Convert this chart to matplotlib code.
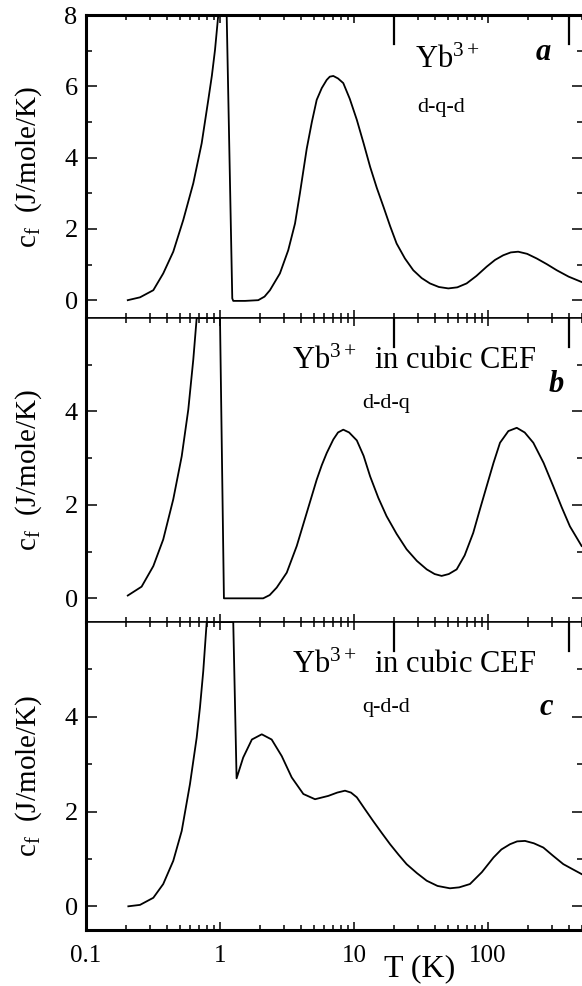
import numpy as np
import matplotlib
matplotlib.use("Agg")
import matplotlib.pyplot as plt
from matplotlib.ticker import FixedLocator, FixedFormatter, LogLocator, NullFormatter

# panel a : Yb3+ d-q-d
T_a = [0.205, 0.253, 0.318, 0.377, 0.448, 0.532, 0.632, 0.73, 0.818, 0.87, 0.918, 0.971,
       1.122, 1.235, 1.256, 1.54, 1.93, 2.15, 2.36, 2.80, 3.23, 3.63, 3.95, 4.44, 4.85,
       5.27, 5.75, 6.26, 6.6, 7.01, 7.6, 8.32, 9.3, 10.5, 11.8, 13.2, 14.8, 16.6,
       18.6, 20.8, 24.0, 27.7, 32.0, 36.9, 43.0, 50.6, 59.0, 69.3, 82.0, 97.8,
       113, 130, 148, 168, 196, 231, 275, 326, 400, 500]
cf_a = [0.0, 0.08, 0.28, 0.75, 1.36, 2.25, 3.28, 4.40, 5.62, 6.3, 7.02, 8.0,
        8.0, 0.05, -0.02, -0.02, 0.0, 0.10, 0.28, 0.75, 1.40, 2.15, 3.0, 4.25, 5.0,
        5.62, 5.95, 6.18, 6.27, 6.29, 6.22, 6.09, 5.65, 5.06, 4.40, 3.74, 3.15, 2.62,
        2.08, 1.59, 1.17, 0.84, 0.62, 0.47, 0.37, 0.33, 0.36, 0.47, 0.68, 0.94,
        1.13, 1.26, 1.34, 1.36, 1.30, 1.17, 1.01, 0.84, 0.66, 0.51]

# panel b : Yb3+ in cubic CEF, d-d-q
T_b = [0.205, 0.26, 0.318, 0.377, 0.448, 0.518, 0.58, 0.632, 0.67,
       1.0, 1.07, 1.41, 2.10, 2.35, 2.65, 3.15, 3.74, 4.44, 5.27, 5.75, 6.26, 7.01,
       7.6, 8.32, 9.2, 10.5, 11.8, 13.2, 15.2, 17.5, 20.8, 24.7, 29.5, 34.9, 40.0,
       45.1, 51.0, 58.4, 67.0, 77.6, 87.0, 97.8, 110, 123, 142, 164, 188, 218,
       260, 307, 355, 409, 500]
cf_b = [0.06, 0.25, 0.69, 1.26, 2.12, 3.04, 4.04, 5.11, 6.0,
        6.0, 0.0, 0.0, 0.0, 0.07, 0.23, 0.55, 1.12, 1.83, 2.54, 2.85, 3.11, 3.40,
        3.55, 3.61, 3.55, 3.38, 3.05, 2.61, 2.15, 1.76, 1.38, 1.05, 0.80, 0.62, 0.52,
        0.48, 0.52, 0.62, 0.92, 1.40, 1.90, 2.40, 2.90, 3.33, 3.58, 3.65, 3.55, 3.33,
        2.90, 2.40, 1.95, 1.54, 1.12]

# panel c : Yb3+ in cubic CEF, q-d-d
T_c = [0.207, 0.253, 0.318, 0.377, 0.448, 0.518, 0.597, 0.67, 0.709, 0.75, 0.796,
       1.256, 1.33, 1.49, 1.73, 2.05, 2.43, 2.89, 3.43, 4.19, 5.12, 6.43, 7.5, 8.57,
       9.5, 10.5, 12.0, 13.9, 16.1, 18.6, 21.5, 24.7, 29.5, 34.9, 42.0, 52.0, 61.0,
       73.4, 90.0, 110, 126, 146, 165, 189, 220, 259, 305, 365, 430, 500]
cf_c = [0.0, 0.03, 0.18, 0.47, 0.96, 1.59, 2.58, 3.56, 4.2, 4.96, 6.0,
        6.0, 2.70, 3.14, 3.52, 3.63, 3.52, 3.17, 2.72, 2.37, 2.26, 2.33, 2.40, 2.44,
        2.40, 2.30, 2.06, 1.80, 1.55, 1.31, 1.09, 0.89, 0.70, 0.54, 0.43, 0.38, 0.40,
        0.47, 0.72, 1.03, 1.20, 1.31, 1.37, 1.38, 1.33, 1.24, 1.07, 0.89, 0.78, 0.68]

x_ticks = [0.1, 1, 10, 100]
x_tick_labels = ['0.1', '1', '10', '100']
delta_marks = [20, 400]

panels = [
    dict(T=T_a, cf=cf_a, ylim=(-0.5, 8), major=[0, 2, 4, 6, 8], minor=[1, 3, 5, 7],
         title='Yb$^{3+}$', sub='d-q-d', letter='a',
         title_xy=(0.662, 0.825), sub_xy=(0.666, 0.681), letter_xy=(0.905, 0.851)),
    dict(T=T_b, cf=cf_b, ylim=(-0.5, 6), major=[0, 2, 4], minor=[1, 3, 5],
         title='Yb$^{3+}$  in cubic CEF', sub='d-d-q', letter='b',
         title_xy=(0.4145, 0.831), sub_xy=(0.555, 0.705), letter_xy=(0.930, 0.757)),
    dict(T=T_c, cf=cf_c, ylim=(-0.5, 6), major=[0, 2, 4], minor=[1, 3, 5],
         title='Yb$^{3+}$  in cubic CEF', sub='q-d-d', letter='c',
         title_xy=(0.4145, 0.833), sub_xy=(0.555, 0.709), letter_xy=(0.913, 0.698)),
]

if __name__ == '__main__':

    plt.rcParams['font.family'] = ['Liberation Serif', 'DejaVu Serif']
    plt.rcParams['mathtext.fontset'] = 'custom'
    plt.rcParams['mathtext.rm'] = 'Liberation Serif'
    plt.rcParams['mathtext.it'] = 'Liberation Serif:italic'
    plt.rcParams['mathtext.bf'] = 'Liberation Serif:bold'

    W, H = 582, 986
    fig = plt.figure(figsize=(W / 100, H / 100), dpi=100)

    # axes boxes in pixels: (top, bottom)
    boxes = [(15, 318), (318, 621.7), (622, 930)]
    left, right = 86, 583

    for i, (p, (top, bot)) in enumerate(zip(panels, boxes)):
        ax = fig.add_axes([left / W, (H - bot) / H, (right - left) / W, (bot - top) / H])
        ax.plot(p['T'], p['cf'], color='k', lw=1.3)
        ax.set_xscale('log')
        ax.set_xlim(0.1, 512)
        ax.set_ylim(*p['ylim'])

        ax.xaxis.set_major_locator(FixedLocator(x_ticks))
        ax.xaxis.set_major_formatter(FixedFormatter(x_tick_labels))
        ax.xaxis.set_minor_locator(LogLocator(base=10, subs=np.arange(2, 10)))
        ax.xaxis.set_minor_formatter(NullFormatter())
        ax.yaxis.set_major_locator(FixedLocator(p['major']))
        ax.yaxis.set_minor_locator(FixedLocator(p['minor']))

        ax.tick_params(axis='both', which='both', direction='in', color='k',
                       top=True, right=True, width=1.1)
        ax.tick_params(axis='y', which='major', length=8, labelsize=19, pad=6)
        ax.tick_params(axis='y', which='minor', length=4.5)
        ax.tick_params(axis='x', which='major', length=6, labelsize=18, pad=11)
        ax.tick_params(axis='x', which='minor', length=3.5)
        if i < 2:
            ax.tick_params(axis='x', labelbottom=False)

        ax.spines['right'].set_visible(False)
        ax.spines['left'].set_linewidth(2.2)
        ax.spines['top'].set_linewidth(2.2 if i == 0 else 1.1)
        ax.spines['bottom'].set_linewidth(2.2 if i == 2 else 1.1)

        # long marks hanging from the top axis
        for t in delta_marks:
            ax.axvline(t, ymin=0.905, ymax=1.0, color='k', lw=1.6)

        ax.text(-0.115, 0.5, 'c$_\\mathrm{f}$  (J/mole/K)', transform=ax.transAxes,
                rotation=90, ha='center', va='center', fontsize=21)
        ax.text(*p['title_xy'], p['title'], transform=ax.transAxes,
                ha='left', va='baseline', fontsize=22)
        ax.text(*p['sub_xy'], p['sub'], transform=ax.transAxes,
                ha='left', va='baseline', fontsize=16)
        ax.text(*p['letter_xy'], p['letter'], transform=ax.transAxes,
                ha='left', va='baseline', fontsize=22, fontweight='bold', fontstyle='italic')

        if i == 2:
            ax.text(0.672, -0.150, 'T (K)', transform=ax.transAxes,
                    ha='center', va='baseline', fontsize=23)

    plt.savefig('out.png', dpi=100)
    print("\nDone!")
